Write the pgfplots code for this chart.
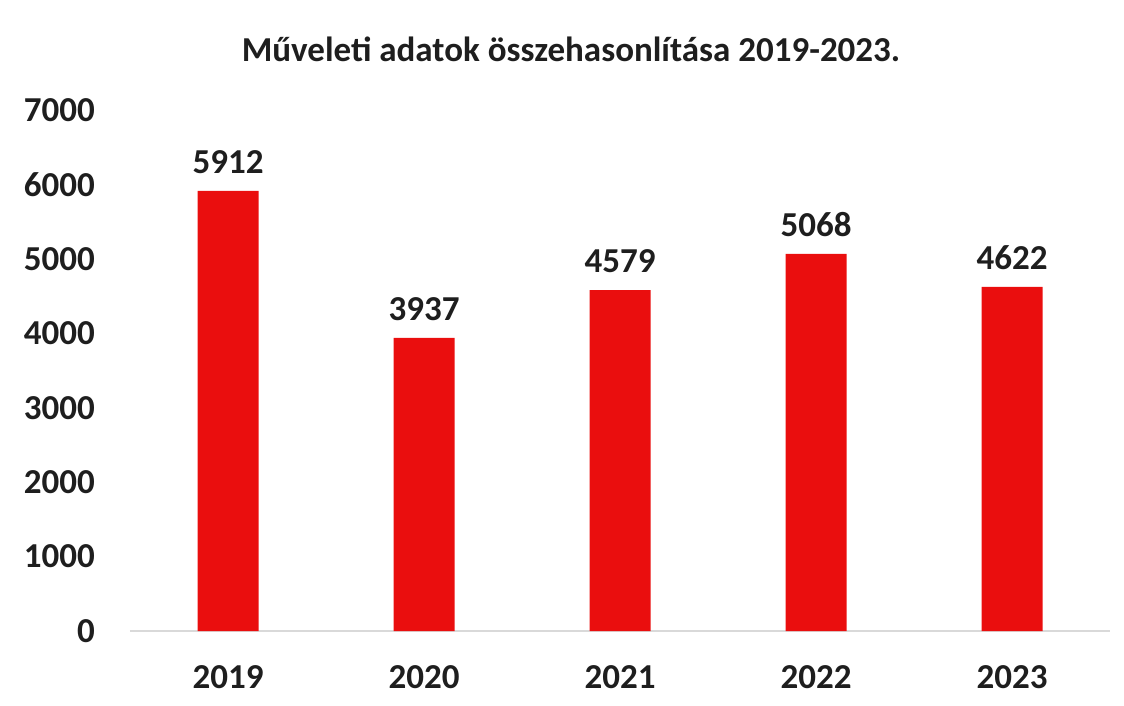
\documentclass[border=0pt]{standalone}
\usepackage{pgfplots}
\pgfplotsset{compat=1.18}
\usepackage{fontspec}
\setmainfont{Carlito}
\definecolor{barred}{RGB}{234,14,14}
\definecolor{txt}{RGB}{30,30,30}
\begin{document}
\begin{tikzpicture}[x=1pt,y=1pt]
\useasboundingbox (0,0) rectangle (1124,705);
\begin{axis}[
  at={(130pt,74pt)}, anchor=south west,
  scale only axis, width=980pt, height=521pt,
  xmin=-0.5, xmax=4.5, ymin=0, ymax=7000,
  xtick={0,1,2,3,4}, xticklabels={2019,2020,2021,2022,2023},
  ytick={0,1000,2000,3000,4000,5000,6000,7000},
  /pgf/number format/assume math mode=true,
  /pgf/number format/1000 sep={},
  axis x line*=bottom, axis y line*=left,
  x axis line style={draw=black!15, line width=1.2pt},
  y axis line style={draw=none},
  major tick length=0pt,
  tick label style={font=\fontsize{35}{40}\selectfont\bfseries, text=txt},
  yticklabel style={anchor=east, inner sep=0pt, xshift=-35pt},
  xticklabel style={anchor=north, inner sep=0pt, yshift=-34pt},
  title={Műveleti adatok összehasonlítása 2019-2023.},
  title style={at={(axis description cs:0.45,1)}, anchor=center, yshift=55pt,
    font=\fontsize{35}{40}\selectfont\bfseries, text=txt},
  clip=false,
]
\addplot[ybar, bar width=61pt, fill=barred, draw=none,
  nodes near coords,
  every node near coord/.append style={font=\fontsize{35}{40}\selectfont\bfseries, text=txt, anchor=south, inner sep=0pt, yshift=17pt},
  ] coordinates {(0,5912) (1,3937) (2,4579) (3,5068) (4,4622)};
\end{axis}
\end{tikzpicture}
\end{document}
